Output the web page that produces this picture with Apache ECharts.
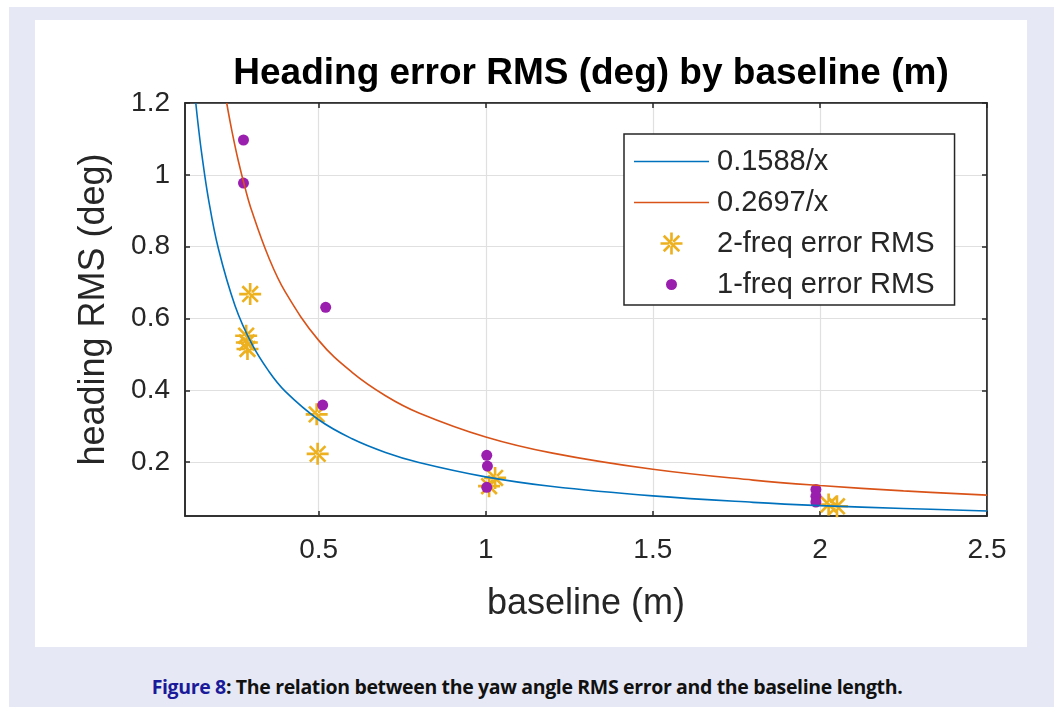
<!DOCTYPE html>
<html>
<head>
<meta charset="utf-8">
<script src="https://cdn.jsdelivr.net/npm/echarts@6/dist/echarts.min.js"></script>
<style>
  html, body { margin: 0; padding: 0; background: #fff; }
  #frame { position: absolute; left: 9px; top: 7px; width: 1045px; height: 700px; background: #e6e9f5; }
  #panel { position: absolute; left: 35px; top: 20px; width: 992px; height: 627px; background: #fff; }
  #caption { position: absolute; left: 0; top: 673px; width: 1054px; text-align: center;
    font-family: "Open Sans", "Noto Sans", sans-serif; font-weight: bold; font-size: 19.5px;
    letter-spacing: -0.35px; color: #111; }
  #caption span { color: #1a1a9a; }
  #chart { position: absolute; left: 0; top: 0; width: 1054px; height: 707px; }
</style>
</head>
<body>
<div id="frame"></div>
<div id="panel"></div>
<div id="caption"><span>Figure 8</span>: The relation between the yaw angle RMS error and the baseline length.</div>
<div id="chart"></div>
<script>
// 拟合曲线
let fitX = [0.1323, 0.14, 0.15, 0.17, 0.2, 0.25, 0.3, 0.35, 0.4, 0.5, 0.6, 0.7, 0.8, 1.0, 1.2, 1.5, 1.8, 2.0, 2.25, 2.5];
let fit1Y = [1.2, 1.134, 1.059, 0.934, 0.794, 0.635, 0.529, 0.454, 0.397, 0.318, 0.265, 0.227, 0.199, 0.159, 0.132, 0.106, 0.088, 0.079, 0.071, 0.064];
let fit2X = [0.2248, 0.24, 0.26, 0.28, 0.3, 0.35, 0.4, 0.5, 0.6, 0.7, 0.8, 1.0, 1.2, 1.5, 1.8, 2.0, 2.25, 2.5];
let fit2Y = [1.2, 1.124, 1.037, 0.963, 0.899, 0.771, 0.674, 0.539, 0.45, 0.385, 0.337, 0.27, 0.225, 0.18, 0.15, 0.135, 0.12, 0.108];
// 双频
let dualX = [0.295, 0.283, 0.285, 0.287, 0.494, 0.497, 1.028, 1.01, 2.026, 2.051];
let dualY = [0.668, 0.552, 0.533, 0.515, 0.333, 0.223, 0.156, 0.133, 0.082, 0.077];
// 单频
let singleX = [0.275, 0.275, 0.521, 0.512, 1.003, 1.005, 1.003, 1.988, 1.988, 1.988];
let singleY = [1.097, 0.977, 0.631, 0.359, 0.219, 0.189, 0.13, 0.124, 0.105, 0.089];

let xTicks = [0.5, 1, 1.5, 2, 2.5];
let yTicks = [0.2, 0.4, 0.6, 0.8, 1, 1.2];
let names = ['0.1588/x', '0.2697/x', '2-freq error RMS', '1-freq error RMS'];

let zip = function(xs, ys) {
  let out = [];
  for (let i = 0; i < xs.length; i++) out.push([xs[i], ys[i]]);
  return out;
};

const FONT = '"Liberation Sans", Arial, sans-serif';
const asterisk = 'path://M0 8.8L20 8.8L20 11.2L0 11.2Z M8.8 0L11.2 0L11.2 20L8.8 20Z ' +
  'M3.78 2.08L17.92 16.22L16.22 17.92L2.08 3.78Z M3.78 17.92L17.92 3.78L16.22 2.08L2.08 16.22Z';
const lineIcon = 'path://M0 0L75 0L75 1.6L0 1.6Z';
// 小圆点图例：四角极小三角撑开包围盒
const dotIcon = 'path://M0 0L0.01 0L0 0.01Z M75 22L74.99 22L75 21.99Z M43 11A5.5 5.5 0 1 1 43 10.99Z';

let chart = echarts.init(document.getElementById('chart'));
let axisCommon = {
  type: 'value',
  axisLine: { show: true, lineStyle: { color: '#262626', width: 1.5 } },
  axisTick: { show: true, inside: true, length: 5, lineStyle: { color: '#262626', width: 1.5 } },
  splitLine: { show: false }
};
chart.setOption({
  animation: false,
  title: {
    text: 'Heading error RMS (deg) by baseline (m)',
    left: 586, top: 50, textAlign: 'center',
    textStyle: { fontFamily: FONT, fontSize: 37, fontWeight: 'bold', color: '#000' }
  },
  grid: { left: 185, top: 103, width: 802, height: 413, show: true, borderColor: '#262626', borderWidth: 1.5, backgroundColor: 'transparent' },
  legend: {
    orient: 'vertical',
    left: 624, top: 134,
    padding: [13, 20, 6, 10],
    itemWidth: 75, itemHeight: 22,
    itemGap: 12,
    backgroundColor: '#fff',
    borderColor: '#262626', borderWidth: 1.5, borderRadius: 0,
    textStyle: { fontFamily: FONT, fontSize: 29, color: '#262626', padding: [0, 0, 0, 3] },
    data: [
      { name: names[0], icon: lineIcon, itemStyle: { color: '#0072BD' } },
      { name: names[1], icon: lineIcon, itemStyle: { color: '#D95319' } },
      { name: names[2] },
      { name: names[3], icon: dotIcon, itemStyle: { color: '#9a1fae' } }
    ]
  },
  xAxis: [
    Object.assign({}, axisCommon, {
      min: 0.1, max: 2.5,
      name: 'baseline (m)', nameLocation: 'middle', nameGap: 70,
      nameTextStyle: { fontFamily: FONT, fontSize: 36, color: '#262626' },
      axisTick: Object.assign({}, axisCommon.axisTick, { customValues: xTicks }),
      axisLabel: { customValues: xTicks, margin: 20, fontFamily: FONT, fontSize: 28, color: '#262626' },
      splitLine: { show: true, lineStyle: { color: '#e0e0e0', width: 1.2 } }
    }),
    Object.assign({}, axisCommon, {
      position: 'top', min: 0.1, max: 2.5,
      axisTick: Object.assign({}, axisCommon.axisTick, { customValues: xTicks }),
      axisLabel: { show: false, customValues: xTicks }
    })
  ],
  yAxis: [
    Object.assign({}, axisCommon, {
      min: 0.05, max: 1.2,
      name: 'heading RMS (deg)', nameLocation: 'middle', nameGap: 73,
      nameTextStyle: { fontFamily: FONT, fontSize: 36, color: '#262626' },
      axisTick: Object.assign({}, axisCommon.axisTick, { customValues: yTicks }),
      axisLabel: { customValues: yTicks, margin: 15, fontFamily: FONT, fontSize: 28, color: '#262626' },
      splitLine: { show: true, lineStyle: { color: '#e0e0e0', width: 1.2 } }
    }),
    Object.assign({}, axisCommon, {
      position: 'right', min: 0.05, max: 1.2,
      axisTick: Object.assign({}, axisCommon.axisTick, { customValues: yTicks }),
      axisLabel: { show: false, customValues: yTicks }
    })
  ],
  series: [
    {
      name: names[0], type: 'line', data: zip(fitX, fit1Y), smooth: 0.4,
      showSymbol: false, clip: true,
      lineStyle: { color: '#0072BD', width: 1.6 }, itemStyle: { color: '#0072BD' }
    },
    {
      name: names[1], type: 'line', data: zip(fit2X, fit2Y), smooth: 0.4,
      showSymbol: false, clip: true,
      lineStyle: { color: '#D95319', width: 1.6 }, itemStyle: { color: '#D95319' }
    },
    {
      name: names[2], type: 'scatter', data: zip(dualX, dualY),
      symbol: asterisk, symbolSize: 22,
      itemStyle: { color: '#EDB120', opacity: 1 }
    },
    {
      name: names[3], type: 'scatter', data: zip(singleX, singleY),
      symbol: 'circle', symbolSize: 11,
      itemStyle: { color: '#9a1fae', opacity: 1 }
    }
  ]
});
</script>
</body>
</html>
